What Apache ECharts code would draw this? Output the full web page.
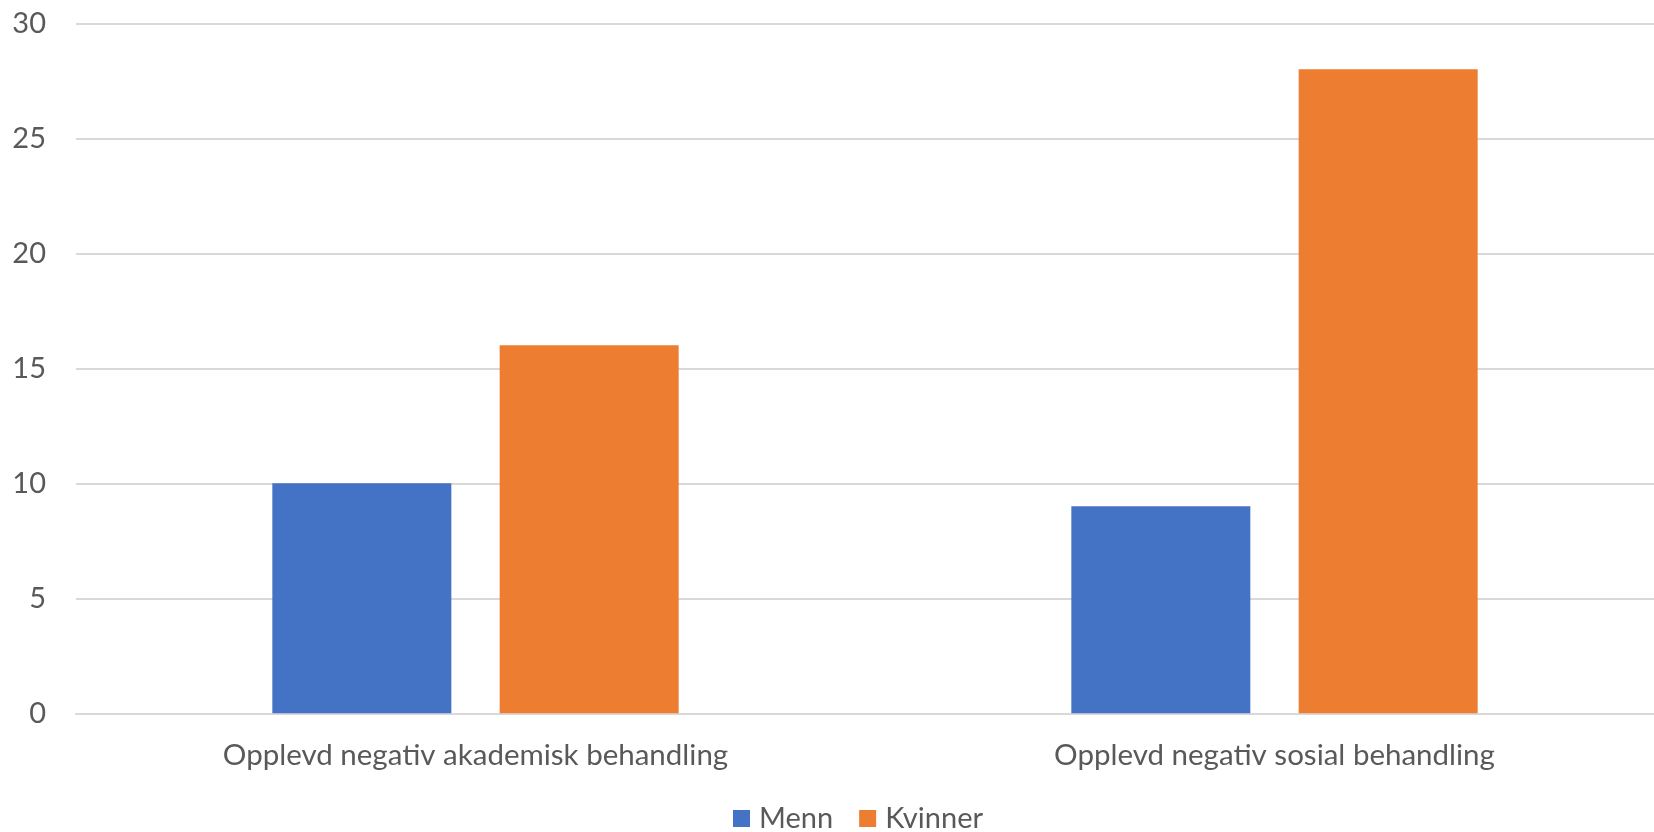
<!DOCTYPE html>
<html>
<head>
<meta charset="utf-8">
<script src="https://cdn.jsdelivr.net/npm/echarts@6/dist/echarts.min.js"></script>
<style>
html,body{margin:0;padding:0;background:#fff;overflow:hidden;}
#chart{width:1674px;height:832px;}
</style>
</head>
<body>
<div id="chart"></div>
<script>
const categories = ['Opplevd negativ akademisk behandling', 'Opplevd negativ sosial behandling'];
const seriesNames = ['Menn', 'Kvinner'];
const menn = [10, 9];
const kvinner = [16, 28];
const yTicks = [0, 5, 10, 15, 20, 25, 30];

const chart = echarts.init(document.getElementById('chart'));
const FONT = 'Lato';
chart.setOption({
  backgroundColor: '#ffffff',
  animation: false,
  textStyle: { fontFamily: FONT },
  grid: { left: 76, top: 23.3, bottom: 118.7, right: 0, containLabel: false },
  legend: {
    data: seriesNames,
    left: 728,
    top: 799,
    icon: 'rect',
    itemWidth: 17,
    itemHeight: 17,
    itemGap: 26,
    textStyle: { color: '#595959', fontSize: 29, fontFamily: FONT, padding: [0, 0, 0, 4] }
  },
  xAxis: {
    type: 'category',
    data: categories,
    axisLine: { show: true, lineStyle: { color: '#D9D9D9', width: 2 } },
    axisTick: { show: false },
    axisLabel: { color: '#595959', fontSize: 29.5, fontFamily: FONT, margin: 27 }
  },
  yAxis: {
    type: 'value',
    min: yTicks[0],
    max: yTicks[yTicks.length - 1],
    interval: yTicks[1] - yTicks[0],
    axisLine: { show: false },
    axisTick: { show: false },
    splitLine: { lineStyle: { color: '#D9D9D9', width: 2 } },
    axisLabel: { color: '#595959', fontSize: 29, fontFamily: FONT, margin: 30 }
  },
  series: [
    { name: seriesNames[0], type: 'bar', data: menn, barWidth: 179, barGap: '27%', itemStyle: { color: '#4472C4' } },
    { name: seriesNames[1], type: 'bar', data: kvinner, barWidth: 179, barGap: '27%', itemStyle: { color: '#ED7D31' } }
  ]
});
</script>
</body>
</html>
